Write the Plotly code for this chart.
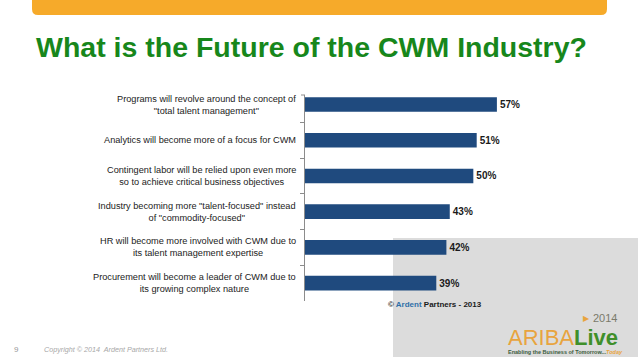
import plotly.graph_objects as go

categories = [
    "Programs will revolve around the concept of<br>\"total talent management\"",
    "Analytics will become more of a focus for CWM",
    "Contingent labor will be relied upon even more<br>so to achieve critical business objectives",
    "Industry becoming more \"talent-focused\" instead<br>of \"commodity-focused\"",
    "HR will become more involved with CWM due to<br>its talent management expertise",
    "Procurement will become a leader of CWM due to<br>its growing complex nature",
]
values = [57, 51, 50, 43, 42, 39]
title_text = "What is the Future of the CWM Industry?"
source_text = "© <span style='color:#2f6fa8'>Ardent</span> Partners - 2013"
footer_page = "9"
footer_copy = "Copyright © 2014  Ardent Partners Ltd."

W, H = 638, 359
L, R, T, B = 305, 131, 95, 58
PW, PH = W - L - R, H - T - B


def px(x):
    return (x - L) / PW


def py(y):
    return (H - B - y) / PH


fig = go.Figure()
fig.add_trace(go.Bar(
    x=values, y=categories, orientation="h",
    marker=dict(color="#1f4a7e", line=dict(width=0)),
    texttemplate="<b>%{x}%</b>", textposition="outside",
    textfont=dict(family="Liberation Sans", size=10, color="#1a1a1a"),
    cliponaxis=False, hoverinfo="skip",
))

shapes = []
# gray box bottom right
shapes.append(dict(type="rect", xref="paper", yref="paper", layer="below",
                   x0=px(393), x1=px(638), y0=py(357), y1=py(238),
                   fillcolor="#dcdcdc", line=dict(width=0)))
# orange banner with rounded bottom corners
r = 6
x0, x1, y0, y1 = 32, 607, 0, 15
path = (f"M {px(x0)},{py(y0)} L {px(x1)},{py(y0)} L {px(x1)},{py(y1 - r)} "
        f"Q {px(x1)},{py(y1)} {px(x1 - r)},{py(y1)} L {px(x0 + r)},{py(y1)} "
        f"Q {px(x0)},{py(y1)} {px(x0)},{py(y1 - r)} Z")
shapes.append(dict(type="path", xref="paper", yref="paper", path=path,
                   fillcolor="#f6aa2a", line=dict(width=0)))
# small top cap tick on the axis
shapes.append(dict(type="line", xref="paper", yref="paper",
                   x0=px(301), x1=px(305), y0=1, y1=1,
                   line=dict(color="#8c8c8c", width=1)))

annotations = []
for c in categories:
    annotations.append(dict(x=0, xref="paper", y=c, yref="y", text=c,
                            xanchor="right", yanchor="middle", align="center",
                            xshift=-7, showarrow=False,
                            font=dict(family="Liberation Sans", size=9.2, color="#222222")))
annotations.append(dict(x=px(34), y=py(47), xref="paper", yref="paper",
                        text="<b>" + title_text + "</b>", showarrow=False,
                        xanchor="left", yanchor="middle",
                        font=dict(family="Liberation Sans", size=28.5, color="#17871b")))
annotations.append(dict(x=px(386), y=py(304), xref="paper", yref="paper",
                        text="<b>" + source_text + "</b>", showarrow=False,
                        xanchor="left", yanchor="middle",
                        font=dict(family="Liberation Sans", size=8, color="#1a1a1a")))
annotations.append(dict(x=px(12), y=py(349), xref="paper", yref="paper",
                        text=footer_page, showarrow=False, xanchor="left", yanchor="middle",
                        font=dict(family="Liberation Sans", size=8, color="#999999")))
annotations.append(dict(x=px(42), y=py(349), xref="paper", yref="paper",
                        text="<i>" + footer_copy + "</i>", showarrow=False,
                        xanchor="left", yanchor="middle",
                        font=dict(family="Liberation Sans", size=7.2, color="#a8a8a8")))
# ARIBA Live logo
annotations.append(dict(x=px(506), y=py(337), xref="paper", yref="paper",
                        text="ARIBA<b><span style='color:#3f8f2a'>Live</span></b>",
                        showarrow=False, xanchor="left", yanchor="middle",
                        font=dict(family="Liberation Sans", size=22, color="#e8a43e")))
annotations.append(dict(x=px(619), y=py(318), xref="paper", yref="paper",
                        text="2014", showarrow=False, xanchor="right", yanchor="middle",
                        font=dict(family="Liberation Sans", size=11, color="#7a7a6a")))
annotations.append(dict(x=px(592), y=py(318), xref="paper", yref="paper",
                        text="▶", showarrow=False, xanchor="right", yanchor="middle",
                        font=dict(family="DejaVu Sans", size=8, color="#e8a43e")))
annotations.append(dict(x=px(506), y=py(352), xref="paper", yref="paper",
                        text="<b>Enabling the Business of Tomorrow...<i><span style='color:#e8a43e'>Today</span></i></b>",
                        showarrow=False, xanchor="left", yanchor="middle",
                        font=dict(family="Liberation Sans Narrow, Liberation Sans", size=5.5, color="#3b5b3b")))

fig.update_layout(
    width=W, height=H,
    margin=dict(l=L, r=R, t=T, b=B, pad=0),
    paper_bgcolor="white", plot_bgcolor="rgba(0,0,0,0)",
    showlegend=False, bargap=0.59,
    shapes=shapes, annotations=annotations,
    xaxis=dict(range=[0, 60], visible=False, fixedrange=True),
    yaxis=dict(type="category", categoryorder="array", categoryarray=categories,
               range=[5.5, -0.266], showticklabels=False,
               showline=True, linecolor="#8c8c8c", linewidth=1,
               ticks="outside", tickson="boundaries", ticklen=4, tickcolor="#8c8c8c",
               showgrid=False, zeroline=False, fixedrange=True),
)

fig.write_html("out.html", config={"displayModeBar": False},
               post_script="document.body.style.margin='0';document.body.style.overflow='hidden';")
